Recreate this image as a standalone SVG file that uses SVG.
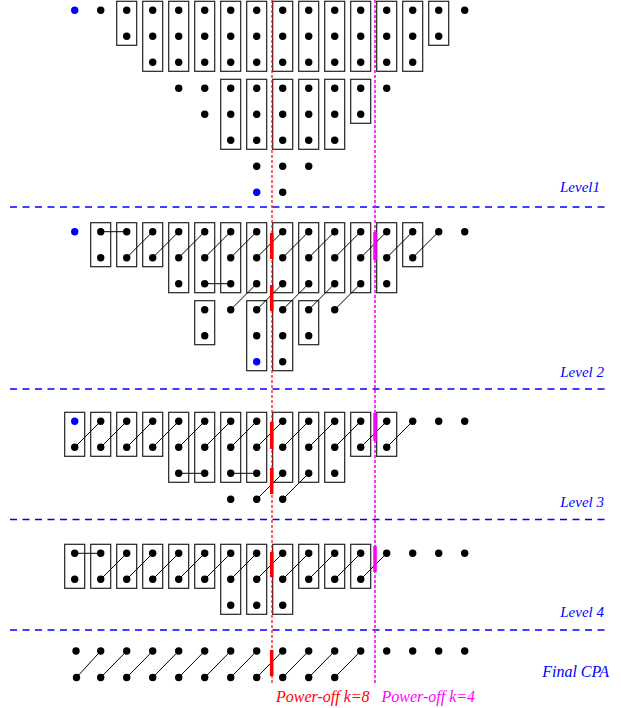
<svg xmlns="http://www.w3.org/2000/svg" width="621" height="708" viewBox="0 0 621 708">
<style>
.bx{fill:none;stroke:#222;stroke-width:1.2}
.d{fill:#000}
.b{fill:#00f}
.cn{fill:none;stroke:#000;stroke-width:1}
.lv{stroke:#00f;stroke-width:1.5;stroke-dasharray:7 5.5}
.lab{font-family:"Liberation Serif",serif;font-style:italic;font-size:15px;fill:#00f;text-anchor:end}
.red{stroke:#f00;stroke-width:1.2;stroke-dasharray:3 2}
.mag{stroke:#f0f;stroke-width:1.6;stroke-dasharray:3 2}
.rk{stroke:#f00;stroke-width:3.5}
.mk{stroke:#f0f;stroke-width:3.5}
.pt{font-family:"Liberation Serif",serif;font-style:italic;font-size:16px}
</style>
<rect width="621" height="708" fill="#fff"/>
<g id="level-lines">
<line class="lv" x1="10" y1="207" x2="605" y2="207"/>
<line class="lv" x1="10" y1="389" x2="605" y2="389"/>
<line class="lv" x1="10" y1="519.5" x2="605" y2="519.5"/>
<line class="lv" x1="10" y1="630" x2="605" y2="630"/>
<text class="lab" x="600" y="192">Level1</text>
<text class="lab" x="604" y="377">Level 2</text>
<text class="lab" x="604" y="507">Level 3</text>
<text class="lab" x="604" y="617">Level 4</text>
<text class="lab" x="609" y="677" style="font-size:16px">Final CPA</text>
</g>
<g id="level1">
<g id="l1-boxes">
<rect class="bx" x="116.7" y="1.3" width="20" height="44"/>
<rect class="bx" x="142.7" y="1.3" width="20" height="70"/>
<rect class="bx" x="168.7" y="1.3" width="20" height="70"/>
<rect class="bx" x="194.7" y="1.3" width="20" height="70"/>
<rect class="bx" x="220.7" y="1.3" width="20" height="70"/>
<rect class="bx" x="246.7" y="1.3" width="20" height="70"/>
<rect class="bx" x="272.7" y="1.3" width="20" height="70"/>
<rect class="bx" x="298.7" y="1.3" width="20" height="70"/>
<rect class="bx" x="324.7" y="1.3" width="20" height="70"/>
<rect class="bx" x="350.7" y="1.3" width="20" height="70"/>
<rect class="bx" x="376.7" y="1.3" width="20" height="70"/>
<rect class="bx" x="402.7" y="1.3" width="20" height="70"/>
<rect class="bx" x="428.7" y="1.3" width="20" height="44"/>
<rect class="bx" x="220.7" y="79.3" width="20" height="70"/>
<rect class="bx" x="246.7" y="79.3" width="20" height="70"/>
<rect class="bx" x="272.7" y="79.3" width="20" height="70"/>
<rect class="bx" x="298.7" y="79.3" width="20" height="70"/>
<rect class="bx" x="324.7" y="79.3" width="20" height="70"/>
<rect class="bx" x="350.7" y="79.3" width="20" height="44"/>
</g>
<g id="l1-dots">
<circle class="b" cx="74.7" cy="10.3" r="3.7"/>
<circle class="d" cx="100.7" cy="10.3" r="3.7"/><circle class="d" cx="126.7" cy="10.3" r="3.7"/><circle class="d" cx="152.7" cy="10.3" r="3.7"/><circle class="d" cx="178.7" cy="10.3" r="3.7"/><circle class="d" cx="204.7" cy="10.3" r="3.7"/><circle class="d" cx="230.7" cy="10.3" r="3.7"/><circle class="d" cx="256.7" cy="10.3" r="3.7"/><circle class="d" cx="282.7" cy="10.3" r="3.7"/><circle class="d" cx="308.7" cy="10.3" r="3.7"/><circle class="d" cx="334.7" cy="10.3" r="3.7"/><circle class="d" cx="360.7" cy="10.3" r="3.7"/><circle class="d" cx="386.7" cy="10.3" r="3.7"/><circle class="d" cx="412.7" cy="10.3" r="3.7"/><circle class="d" cx="438.7" cy="10.3" r="3.7"/><circle class="d" cx="464.7" cy="10.3" r="3.7"/>
<circle class="d" cx="126.7" cy="36.3" r="3.7"/><circle class="d" cx="152.7" cy="36.3" r="3.7"/><circle class="d" cx="178.7" cy="36.3" r="3.7"/><circle class="d" cx="204.7" cy="36.3" r="3.7"/><circle class="d" cx="230.7" cy="36.3" r="3.7"/><circle class="d" cx="256.7" cy="36.3" r="3.7"/><circle class="d" cx="282.7" cy="36.3" r="3.7"/><circle class="d" cx="308.7" cy="36.3" r="3.7"/><circle class="d" cx="334.7" cy="36.3" r="3.7"/><circle class="d" cx="360.7" cy="36.3" r="3.7"/><circle class="d" cx="386.7" cy="36.3" r="3.7"/><circle class="d" cx="412.7" cy="36.3" r="3.7"/><circle class="d" cx="438.7" cy="36.3" r="3.7"/>
<circle class="d" cx="152.7" cy="62.3" r="3.7"/><circle class="d" cx="178.7" cy="62.3" r="3.7"/><circle class="d" cx="204.7" cy="62.3" r="3.7"/><circle class="d" cx="230.7" cy="62.3" r="3.7"/><circle class="d" cx="256.7" cy="62.3" r="3.7"/><circle class="d" cx="282.7" cy="62.3" r="3.7"/><circle class="d" cx="308.7" cy="62.3" r="3.7"/><circle class="d" cx="334.7" cy="62.3" r="3.7"/><circle class="d" cx="360.7" cy="62.3" r="3.7"/><circle class="d" cx="386.7" cy="62.3" r="3.7"/><circle class="d" cx="412.7" cy="62.3" r="3.7"/>
<circle class="d" cx="178.7" cy="88.3" r="3.7"/><circle class="d" cx="204.7" cy="88.3" r="3.7"/><circle class="d" cx="230.7" cy="88.3" r="3.7"/><circle class="d" cx="256.7" cy="88.3" r="3.7"/><circle class="d" cx="282.7" cy="88.3" r="3.7"/><circle class="d" cx="308.7" cy="88.3" r="3.7"/><circle class="d" cx="334.7" cy="88.3" r="3.7"/><circle class="d" cx="360.7" cy="88.3" r="3.7"/><circle class="d" cx="386.7" cy="88.3" r="3.7"/>
<circle class="d" cx="204.7" cy="114.3" r="3.7"/><circle class="d" cx="230.7" cy="114.3" r="3.7"/><circle class="d" cx="256.7" cy="114.3" r="3.7"/><circle class="d" cx="282.7" cy="114.3" r="3.7"/><circle class="d" cx="308.7" cy="114.3" r="3.7"/><circle class="d" cx="334.7" cy="114.3" r="3.7"/><circle class="d" cx="360.7" cy="114.3" r="3.7"/>
<circle class="d" cx="230.7" cy="140.3" r="3.7"/><circle class="d" cx="256.7" cy="140.3" r="3.7"/><circle class="d" cx="282.7" cy="140.3" r="3.7"/><circle class="d" cx="308.7" cy="140.3" r="3.7"/><circle class="d" cx="334.7" cy="140.3" r="3.7"/>
<circle class="d" cx="256.7" cy="166.3" r="3.7"/><circle class="d" cx="282.7" cy="166.3" r="3.7"/><circle class="d" cx="308.7" cy="166.3" r="3.7"/>
<circle class="b" cx="256.7" cy="192.3" r="3.7"/><circle class="d" cx="282.7" cy="192.3" r="3.7"/>
</g>
</g>
<g id="level2">
<g id="l2-boxes">
<rect class="bx" x="90.7" y="222.7" width="20" height="44"/>
<rect class="bx" x="116.7" y="222.7" width="20" height="44"/>
<rect class="bx" x="142.7" y="222.7" width="20" height="44"/>
<rect class="bx" x="168.7" y="222.7" width="20" height="70"/>
<rect class="bx" x="194.7" y="222.7" width="20" height="70"/>
<rect class="bx" x="220.7" y="222.7" width="20" height="70"/>
<rect class="bx" x="246.7" y="222.7" width="20" height="70"/>
<rect class="bx" x="272.7" y="222.7" width="20" height="70"/>
<rect class="bx" x="298.7" y="222.7" width="20" height="70"/>
<rect class="bx" x="324.7" y="222.7" width="20" height="70"/>
<rect class="bx" x="350.7" y="222.7" width="20" height="70"/>
<rect class="bx" x="376.7" y="222.7" width="20" height="70"/>
<rect class="bx" x="402.7" y="222.7" width="20" height="44"/>
<rect class="bx" x="194.7" y="300.7" width="20" height="44"/>
<rect class="bx" x="246.7" y="300.7" width="20" height="70"/>
<rect class="bx" x="272.7" y="300.7" width="20" height="70"/>
<rect class="bx" x="298.7" y="300.7" width="20" height="44"/>
</g>
<g id="l2-dots">
<circle class="b" cx="74.7" cy="231.7" r="3.7"/>
<circle class="d" cx="100.7" cy="231.7" r="3.7"/><circle class="d" cx="126.7" cy="231.7" r="3.7"/><circle class="d" cx="152.7" cy="231.7" r="3.7"/><circle class="d" cx="178.7" cy="231.7" r="3.7"/><circle class="d" cx="204.7" cy="231.7" r="3.7"/><circle class="d" cx="230.7" cy="231.7" r="3.7"/><circle class="d" cx="256.7" cy="231.7" r="3.7"/><circle class="d" cx="282.7" cy="231.7" r="3.7"/><circle class="d" cx="308.7" cy="231.7" r="3.7"/><circle class="d" cx="334.7" cy="231.7" r="3.7"/><circle class="d" cx="360.7" cy="231.7" r="3.7"/><circle class="d" cx="386.7" cy="231.7" r="3.7"/><circle class="d" cx="412.7" cy="231.7" r="3.7"/><circle class="d" cx="438.7" cy="231.7" r="3.7"/><circle class="d" cx="464.7" cy="231.7" r="3.7"/>
<circle class="d" cx="100.7" cy="257.7" r="3.7"/><circle class="d" cx="126.7" cy="257.7" r="3.7"/><circle class="d" cx="152.7" cy="257.7" r="3.7"/><circle class="d" cx="178.7" cy="257.7" r="3.7"/><circle class="d" cx="204.7" cy="257.7" r="3.7"/><circle class="d" cx="230.7" cy="257.7" r="3.7"/><circle class="d" cx="256.7" cy="257.7" r="3.7"/><circle class="d" cx="282.7" cy="257.7" r="3.7"/><circle class="d" cx="308.7" cy="257.7" r="3.7"/><circle class="d" cx="334.7" cy="257.7" r="3.7"/><circle class="d" cx="360.7" cy="257.7" r="3.7"/><circle class="d" cx="386.7" cy="257.7" r="3.7"/><circle class="d" cx="412.7" cy="257.7" r="3.7"/>
<circle class="d" cx="178.7" cy="283.7" r="3.7"/><circle class="d" cx="204.7" cy="283.7" r="3.7"/><circle class="d" cx="230.7" cy="283.7" r="3.7"/><circle class="d" cx="256.7" cy="283.7" r="3.7"/><circle class="d" cx="282.7" cy="283.7" r="3.7"/><circle class="d" cx="308.7" cy="283.7" r="3.7"/><circle class="d" cx="334.7" cy="283.7" r="3.7"/><circle class="d" cx="360.7" cy="283.7" r="3.7"/><circle class="d" cx="386.7" cy="283.7" r="3.7"/>
<circle class="d" cx="204.7" cy="309.7" r="3.7"/><circle class="d" cx="230.7" cy="309.7" r="3.7"/><circle class="d" cx="256.7" cy="309.7" r="3.7"/><circle class="d" cx="282.7" cy="309.7" r="3.7"/><circle class="d" cx="308.7" cy="309.7" r="3.7"/><circle class="d" cx="334.7" cy="309.7" r="3.7"/>
<circle class="d" cx="204.7" cy="335.7" r="3.7"/><circle class="d" cx="256.7" cy="335.7" r="3.7"/><circle class="d" cx="282.7" cy="335.7" r="3.7"/><circle class="d" cx="308.7" cy="335.7" r="3.7"/>
<circle class="b" cx="256.7" cy="361.7" r="3.7"/><circle class="d" cx="282.7" cy="361.7" r="3.7"/>
</g>
</g>
<g id="level3">
<g id="l3-boxes">
<rect class="bx" x="64.7" y="412.3" width="20" height="44"/>
<rect class="bx" x="90.7" y="412.3" width="20" height="44"/>
<rect class="bx" x="116.7" y="412.3" width="20" height="44"/>
<rect class="bx" x="142.7" y="412.3" width="20" height="44"/>
<rect class="bx" x="168.7" y="412.3" width="20" height="70"/>
<rect class="bx" x="194.7" y="412.3" width="20" height="70"/>
<rect class="bx" x="220.7" y="412.3" width="20" height="70"/>
<rect class="bx" x="246.7" y="412.3" width="20" height="70"/>
<rect class="bx" x="272.7" y="412.3" width="20" height="70"/>
<rect class="bx" x="298.7" y="412.3" width="20" height="70"/>
<rect class="bx" x="324.7" y="412.3" width="20" height="70"/>
<rect class="bx" x="350.7" y="412.3" width="20" height="44"/>
<rect class="bx" x="376.7" y="412.3" width="20" height="44"/>
</g>
<g id="l3-dots">
<circle class="b" cx="74.7" cy="421.3" r="3.7"/>
<circle class="d" cx="100.7" cy="421.3" r="3.7"/><circle class="d" cx="126.7" cy="421.3" r="3.7"/><circle class="d" cx="152.7" cy="421.3" r="3.7"/><circle class="d" cx="178.7" cy="421.3" r="3.7"/><circle class="d" cx="204.7" cy="421.3" r="3.7"/><circle class="d" cx="230.7" cy="421.3" r="3.7"/><circle class="d" cx="256.7" cy="421.3" r="3.7"/><circle class="d" cx="282.7" cy="421.3" r="3.7"/><circle class="d" cx="308.7" cy="421.3" r="3.7"/><circle class="d" cx="334.7" cy="421.3" r="3.7"/><circle class="d" cx="360.7" cy="421.3" r="3.7"/><circle class="d" cx="386.7" cy="421.3" r="3.7"/><circle class="d" cx="412.7" cy="421.3" r="3.7"/><circle class="d" cx="438.7" cy="421.3" r="3.7"/><circle class="d" cx="464.7" cy="421.3" r="3.7"/>
<circle class="d" cx="74.7" cy="447.3" r="3.7"/><circle class="d" cx="100.7" cy="447.3" r="3.7"/><circle class="d" cx="126.7" cy="447.3" r="3.7"/><circle class="d" cx="152.7" cy="447.3" r="3.7"/><circle class="d" cx="178.7" cy="447.3" r="3.7"/><circle class="d" cx="204.7" cy="447.3" r="3.7"/><circle class="d" cx="230.7" cy="447.3" r="3.7"/><circle class="d" cx="256.7" cy="447.3" r="3.7"/><circle class="d" cx="282.7" cy="447.3" r="3.7"/><circle class="d" cx="308.7" cy="447.3" r="3.7"/><circle class="d" cx="334.7" cy="447.3" r="3.7"/><circle class="d" cx="360.7" cy="447.3" r="3.7"/><circle class="d" cx="386.7" cy="447.3" r="3.7"/>
<circle class="d" cx="178.7" cy="473.3" r="3.7"/><circle class="d" cx="204.7" cy="473.3" r="3.7"/><circle class="d" cx="230.7" cy="473.3" r="3.7"/><circle class="d" cx="256.7" cy="473.3" r="3.7"/><circle class="d" cx="282.7" cy="473.3" r="3.7"/><circle class="d" cx="308.7" cy="473.3" r="3.7"/><circle class="d" cx="334.7" cy="473.3" r="3.7"/>
<circle class="d" cx="230.7" cy="499.3" r="3.7"/><circle class="d" cx="256.7" cy="499.3" r="3.7"/><circle class="d" cx="282.7" cy="499.3" r="3.7"/>
</g>
</g>
<g id="level4">
<g id="l4-boxes">
<rect class="bx" x="64.7" y="544.3" width="20" height="44"/>
<rect class="bx" x="90.7" y="544.3" width="20" height="44"/>
<rect class="bx" x="116.7" y="544.3" width="20" height="44"/>
<rect class="bx" x="142.7" y="544.3" width="20" height="44"/>
<rect class="bx" x="168.7" y="544.3" width="20" height="44"/>
<rect class="bx" x="194.7" y="544.3" width="20" height="44"/>
<rect class="bx" x="220.7" y="544.3" width="20" height="70"/>
<rect class="bx" x="246.7" y="544.3" width="20" height="70"/>
<rect class="bx" x="272.7" y="544.3" width="20" height="70"/>
<rect class="bx" x="298.7" y="544.3" width="20" height="44"/>
<rect class="bx" x="324.7" y="544.3" width="20" height="44"/>
<rect class="bx" x="350.7" y="544.3" width="20" height="44"/>
</g>
<g id="l4-dots">
<circle class="d" cx="74.7" cy="553.3" r="3.7"/><circle class="d" cx="100.7" cy="553.3" r="3.7"/><circle class="d" cx="126.7" cy="553.3" r="3.7"/><circle class="d" cx="152.7" cy="553.3" r="3.7"/><circle class="d" cx="178.7" cy="553.3" r="3.7"/><circle class="d" cx="204.7" cy="553.3" r="3.7"/><circle class="d" cx="230.7" cy="553.3" r="3.7"/><circle class="d" cx="256.7" cy="553.3" r="3.7"/><circle class="d" cx="282.7" cy="553.3" r="3.7"/><circle class="d" cx="308.7" cy="553.3" r="3.7"/><circle class="d" cx="334.7" cy="553.3" r="3.7"/><circle class="d" cx="360.7" cy="553.3" r="3.7"/><circle class="d" cx="386.7" cy="553.3" r="3.7"/><circle class="d" cx="412.7" cy="553.3" r="3.7"/><circle class="d" cx="438.7" cy="553.3" r="3.7"/><circle class="d" cx="464.7" cy="553.3" r="3.7"/>
<circle class="d" cx="74.7" cy="579.3" r="3.7"/><circle class="d" cx="100.7" cy="579.3" r="3.7"/><circle class="d" cx="126.7" cy="579.3" r="3.7"/><circle class="d" cx="152.7" cy="579.3" r="3.7"/><circle class="d" cx="178.7" cy="579.3" r="3.7"/><circle class="d" cx="204.7" cy="579.3" r="3.7"/><circle class="d" cx="230.7" cy="579.3" r="3.7"/><circle class="d" cx="256.7" cy="579.3" r="3.7"/><circle class="d" cx="282.7" cy="579.3" r="3.7"/><circle class="d" cx="308.7" cy="579.3" r="3.7"/><circle class="d" cx="334.7" cy="579.3" r="3.7"/><circle class="d" cx="360.7" cy="579.3" r="3.7"/>
<circle class="d" cx="230.7" cy="605.3" r="3.7"/><circle class="d" cx="256.7" cy="605.3" r="3.7"/><circle class="d" cx="282.7" cy="605.3" r="3.7"/>
</g>
</g>
<g id="final-cpa">
<circle class="d" cx="76" cy="651" r="3.7"/><circle class="d" cx="100.7" cy="651" r="3.7"/><circle class="d" cx="126.7" cy="651" r="3.7"/><circle class="d" cx="152.7" cy="651" r="3.7"/><circle class="d" cx="178.7" cy="651" r="3.7"/><circle class="d" cx="204.7" cy="651" r="3.7"/><circle class="d" cx="230.7" cy="651" r="3.7"/><circle class="d" cx="256.7" cy="651" r="3.7"/><circle class="d" cx="282.7" cy="651" r="3.7"/><circle class="d" cx="308.7" cy="651" r="3.7"/><circle class="d" cx="334.7" cy="651" r="3.7"/><circle class="d" cx="360.7" cy="651" r="3.7"/><circle class="d" cx="386.7" cy="651" r="3.7"/><circle class="d" cx="412.7" cy="651" r="3.7"/><circle class="d" cx="438.7" cy="651" r="3.7"/><circle class="d" cx="464.7" cy="651" r="3.7"/>
<circle class="d" cx="76.5" cy="677.5" r="3.7"/><circle class="d" cx="100.7" cy="677.5" r="3.7"/><circle class="d" cx="126.7" cy="677.5" r="3.7"/><circle class="d" cx="152.7" cy="677.5" r="3.7"/><circle class="d" cx="178.7" cy="677.5" r="3.7"/><circle class="d" cx="204.7" cy="677.5" r="3.7"/><circle class="d" cx="230.7" cy="677.5" r="3.7"/><circle class="d" cx="256.7" cy="677.5" r="3.7"/><circle class="d" cx="282.7" cy="677.5" r="3.7"/><circle class="d" cx="308.7" cy="677.5" r="3.7"/><circle class="d" cx="334.7" cy="677.5" r="3.7"/>
</g>
<g id="connectors">
<path class="cn" d="M100.7 231.7H126.7 M126.7 257.7L152.7 231.7 M152.7 257.7L178.7 231.7 M178.7 257.7L204.7 231.7 M204.7 257.7L230.7 231.7 M230.7 257.7L256.7 231.7 M256.7 257.7L282.7 231.7 M282.7 257.7L308.7 231.7 M308.7 257.7L334.7 231.7 M334.7 257.7L360.7 231.7 M360.7 257.7L386.7 231.7 M386.7 257.7L412.7 231.7 M412.7 257.7L438.7 231.7 M204.7 283.7H230.7 M230.7 309.7L256.7 283.7 M256.7 309.7L282.7 283.7 M282.7 309.7L308.7 283.7 M308.7 309.7L334.7 283.7 M334.7 309.7L360.7 283.7"/>
<path class="cn" d="M74.7 447.3L100.7 421.3 M100.7 447.3L126.7 421.3 M126.7 447.3L152.7 421.3 M152.7 447.3L178.7 421.3 M178.7 447.3L204.7 421.3 M204.7 447.3L230.7 421.3 M230.7 447.3L256.7 421.3 M256.7 447.3L282.7 421.3 M282.7 447.3L308.7 421.3 M308.7 447.3L334.7 421.3 M334.7 447.3L360.7 421.3 M360.7 447.3L386.7 421.3 M386.7 447.3L412.7 421.3 M178.7 473.3H204.7 M230.7 473.3H256.7 M256.7 499.3L282.7 473.3 M282.7 499.3L308.7 473.3"/>
<path class="cn" d="M74.7 553.3H100.7 M100.7 579.3L126.7 553.3 M126.7 579.3L152.7 553.3 M152.7 579.3L178.7 553.3 M178.7 579.3L204.7 553.3 M204.7 579.3L230.7 553.3 M230.7 579.3L256.7 553.3 M256.7 579.3L282.7 553.3 M282.7 579.3L308.7 553.3 M308.7 579.3L334.7 553.3 M334.7 579.3L360.7 553.3 M360.7 579.3L386.7 553.3"/>
<path class="cn" d="M76.5 677.5L100.7 651 M100.7 677.5L126.7 651 M126.7 677.5L152.7 651 M152.7 677.5L178.7 651 M178.7 677.5L204.7 651 M204.7 677.5L230.7 651 M230.7 677.5L256.7 651 M256.7 677.5L282.7 651 M282.7 677.5L308.7 651 M308.7 677.5L334.7 651 M334.7 677.5L360.7 651"/>
</g>
<g id="power-off">
<line class="red" x1="272" y1="0" x2="272" y2="685"/>
<line class="mag" x1="375" y1="0" x2="375" y2="685"/>
<line class="rk" x1="271.7" y1="233" x2="271.7" y2="259"/>
<line class="rk" x1="271.7" y1="285" x2="271.7" y2="311"/>
<line class="rk" x1="271.7" y1="422" x2="271.7" y2="449"/>
<line class="rk" x1="271.7" y1="468" x2="271.7" y2="494"/>
<line class="rk" x1="271.7" y1="552" x2="271.7" y2="577"/>
<line class="rk" x1="271.7" y1="650" x2="271.7" y2="676"/>
<line class="mk" x1="375" y1="232" x2="375" y2="260"/>
<line class="mk" x1="375" y1="413" x2="375" y2="441"/>
<line class="mk" x1="375" y1="546" x2="375" y2="572"/>
<text class="pt" x="276" y="702" fill="#f00">Power-off k=8</text>
<text class="pt" x="381.5" y="702" fill="#f0f">Power-off k=4</text>
</g>
</svg>
